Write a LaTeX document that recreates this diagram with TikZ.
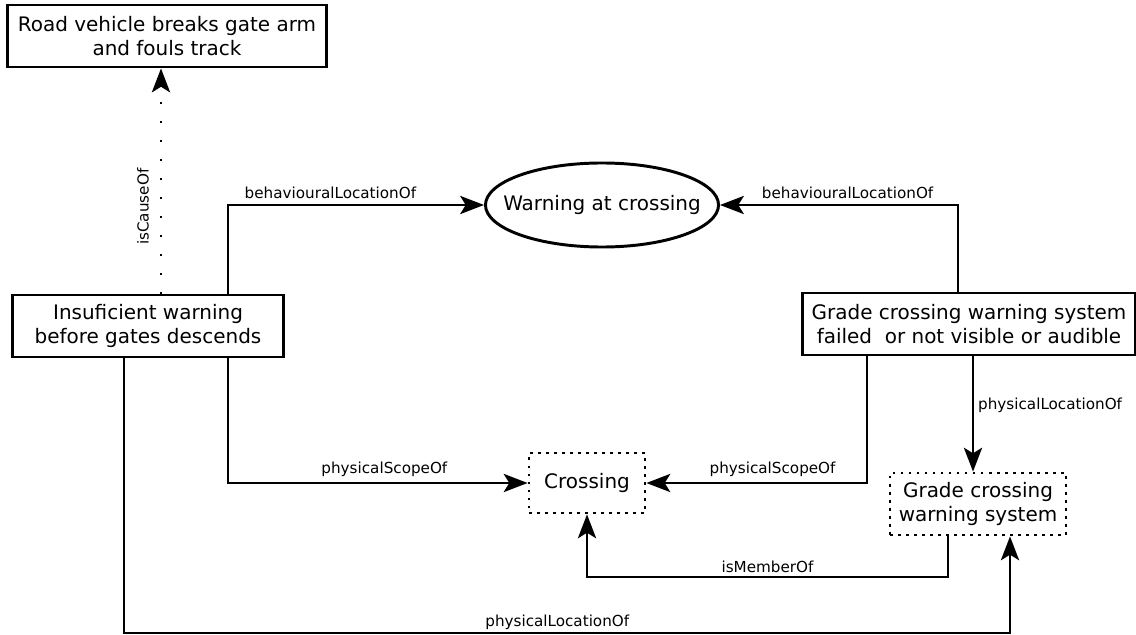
\documentclass[tikz,border=0pt]{standalone}
\usepackage{fontspec}
\setmainfont{DejaVu Sans}
\usetikzlibrary{arrows.meta,shapes.geometric}

\tikzset{
  event/.style={draw, line width=2.1pt, align=center, inner sep=0pt,
    font=\fontsize{14.2}{16.5}\selectfont},
  thing/.style={draw, line width=2pt, dash pattern=on 2pt off 3.7pt,
    align=center, inner sep=0pt, font=\fontsize{14.2}{16.5}\selectfont},
  rel/.style={line width=1.4pt, -{Stealth[length=17pt,width=13pt,inset=4pt]}},
  cause/.style={rel, dash pattern=on 1pt off 12.5pt},
  lbl/.style={font=\fontsize{10.8}{12}\selectfont, inner sep=2pt}
}

\begin{document}
\begin{tikzpicture}[x=0.025cm, y=-0.025cm]
  \useasboundingbox (0,0) rectangle (1136,635);

  % Draw the events
  \node[event, minimum width=7.95cm, minimum height=1.55cm] (road) at (167,36)
    {Road vehicle breaks gate arm\\and fouls track};
  \node[event, minimum width=6.75cm, minimum height=1.55cm] (insuff) at (148,326)
    {Insuficient warning\\before gates descends};
  \node[event, minimum width=8.3cm, minimum height=1.55cm] (failed) at (969,324)
    {Grade crossing warning system\\failed\ \ or not visible or audible};
  \node[event, ellipse, inner xsep=-0.44cm, minimum width=5.825cm, minimum height=2.1cm]
    (warn) at (602,205) {Warning at crossing};

  % Draw the physical things
  \node[thing, minimum width=2.9cm, minimum height=1.5cm] (crossing) at (587,483) {Crossing};
  \node[thing, minimum width=4.4cm, minimum height=1.55cm] (gcws) at (978,504)
    {Grade crossing\\warning system};

  % Connect events
  \draw[cause] (insuff.north -| 161,0) -- (road.south -| 161,0)
    node[lbl, pos=0.386, left=6pt, rotate=90, anchor=south] {isCauseOf};
  \draw[rel] (insuff.north -| 228,0) |- (warn.west)
    node[lbl, pos=0.70, above=2pt] {behaviouralLocationOf};
  \draw[rel] (failed.north -| 958,0) |- (warn.east)
    node[lbl, pos=0.732, above=2pt] {behaviouralLocationOf};

  % Connect events to things
  \draw[rel] (insuff.south -| 228,0) |- (crossing.west)
    node[lbl, pos=0.761, above=2pt] {physicalScopeOf};
  \draw[rel] (failed.south -| 867,0) |- (crossing.east)
    node[lbl, pos=0.714, above=2pt] {physicalScopeOf};
  \draw[rel] (failed.south -| 973,0) -- (gcws.north -| 973,0)
    node[lbl, pos=0.42, right=1pt] {physicalLocationOf};
  \draw[rel] (insuff.south -| 124,0) -- (124,633)
    -- node[lbl, pos=0.489, above] {physicalLocationOf} (1010,633)
    -- (gcws.south -| 1010,0);

  % Things among themselves
  \draw[rel] (gcws.south -| 948,0) -- (948,577)
    -- node[lbl, above] {isMemberOf} (crossing.south |- 0,577)
    -- (crossing.south);

\end{tikzpicture}
\end{document}
